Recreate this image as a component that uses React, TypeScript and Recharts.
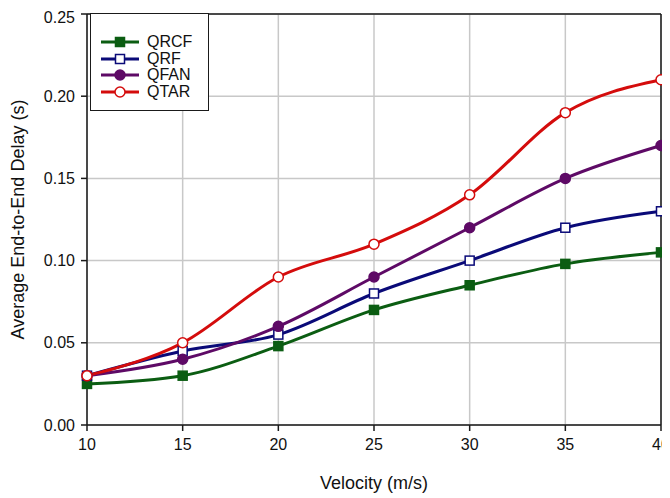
import React from 'react';
import {
  LineChart,
  Line,
  XAxis,
  YAxis,
  CartesianGrid,
  Legend,
  ReferenceLine,
} from 'recharts';

const velocity = [10, 15, 20, 25, 30, 35, 40];
const qrcf = [0.025, 0.03, 0.048, 0.07, 0.085, 0.098, 0.105];
const qrf = [0.03, 0.045, 0.055, 0.08, 0.1, 0.12, 0.13];
const qfan = [0.03, 0.04, 0.06, 0.09, 0.12, 0.15, 0.17];
const qtar = [0.03, 0.05, 0.09, 0.11, 0.14, 0.19, 0.21];
const yTicks = [0, 0.05, 0.1, 0.15, 0.2, 0.25];

const data = velocity.map((v, i) => ({
  v,
  QRCF: qrcf[i],
  QRF: qrf[i],
  QFAN: qfan[i],
  QTAR: qtar[i],
}));

const FONT = '"Liberation Sans", Arial, sans-serif';
const AXIS = '#1a1a1a';

type Shape = 'square' | 'circle';

const series: { key: string; color: string; shape: Shape; filled: boolean }[] = [
  { key: 'QRCF', color: '#0b5d12', shape: 'square', filled: true },
  { key: 'QRF', color: '#0a0a78', shape: 'square', filled: false },
  { key: 'QFAN', color: '#5e0a66', shape: 'circle', filled: true },
  { key: 'QTAR', color: '#d40c0c', shape: 'circle', filled: false },
];

function Marker({ cx, cy, shape, filled, color }: any) {
  const fill = filled ? color : '#fff';
  if (shape === 'square') {
    return <rect x={cx - 4.5} y={cy - 4.5} width={9} height={9} fill={fill} stroke={color} strokeWidth={1.5} />;
  }
  return <circle cx={cx} cy={cy} r={5} fill={fill} stroke={color} strokeWidth={1.5} />;
}

const makeDot = (s: (typeof series)[number]) => (props: any) => {
  if (props.cx == null || props.cy == null) return <g key={props.index} />;
  return (
    <g key={`${s.key}-${props.index}`}>
      <Marker cx={props.cx} cy={props.cy} shape={s.shape} filled={s.filled} color={s.color} />
    </g>
  );
};

function LegendBox() {
  return (
    <div
      style={{
        border: `1.5px solid ${AXIS}`,
        background: '#fff',
        padding: '20px 0 10px 9px',
        width: 108,
        boxSizing: 'content-box',
        fontFamily: FONT,
        fontSize: 16,
        color: '#111',
      }}
    >
      {series.map((s) => (
        <div key={s.key} style={{ display: 'flex', alignItems: 'center', height: 16.5 }}>
          <svg width={40} height={12} style={{ marginRight: 7 }}>
            <line x1={1} y1={6} x2={39} y2={6} stroke={s.color} strokeWidth={3} />
            <Marker cx={20} cy={6} shape={s.shape} filled={s.filled} color={s.color} />
          </svg>
          <span>{s.key}</span>
        </div>
      ))}
    </div>
  );
}

export default function App() {
  return (
    <div style={{ fontFamily: FONT }}>
      <LineChart width={662} height={490} data={data} margin={{ top: 6, right: 9, left: 0, bottom: 5 }}>
        <CartesianGrid stroke="#c8c8c8" strokeWidth={1.5} />
        <XAxis
          dataKey="v"
          type="number"
          domain={[10, 40]}
          ticks={velocity}
          height={68}
          tickSize={6}
          tickMargin={8}
          stroke={AXIS}
          strokeWidth={1.5}
          tick={{ fill: '#111', fontSize: 16, fontFamily: FONT }}
          label={{
            value: 'Velocity (m/s)',
            position: 'insideBottom',
            offset: 4,
            style: { fill: '#111', fontSize: 18, fontFamily: FONT },
          }}
        />
        <YAxis
          type="number"
          domain={[0, 0.25]}
          ticks={yTicks}
          width={79}
          tickSize={6}
          tickMargin={6}
          stroke={AXIS}
          strokeWidth={1.5}
          tickFormatter={(t: number) => t.toFixed(2)}
          tick={{ fill: '#111', fontSize: 16, fontFamily: FONT }}
          label={{
            value: 'Average End-to-End Delay (s)',
            angle: -90,
            position: 'insideLeft',
            offset: 10,
            style: { textAnchor: 'middle', fill: '#111', fontSize: 18, fontFamily: FONT },
          }}
        />
        <ReferenceLine y={0.25} stroke={AXIS} strokeWidth={1.5} />
        <ReferenceLine x={40} stroke={AXIS} strokeWidth={1.5} />
        {series.map((s) => (
          <Line
            key={s.key}
            type="monotone"
            dataKey={s.key}
            stroke={s.color}
            strokeWidth={3}
            dot={makeDot(s)}
            activeDot={false}
            isAnimationActive={false}
          />
        ))}
        <Legend
          layout="vertical"
          align="center"
          verticalAlign="middle"
          wrapperStyle={{ left: 82, top: 5, width: 'auto', height: 'auto' }}
          content={() => <LegendBox />}
        />
      </LineChart>
    </div>
  );
}
